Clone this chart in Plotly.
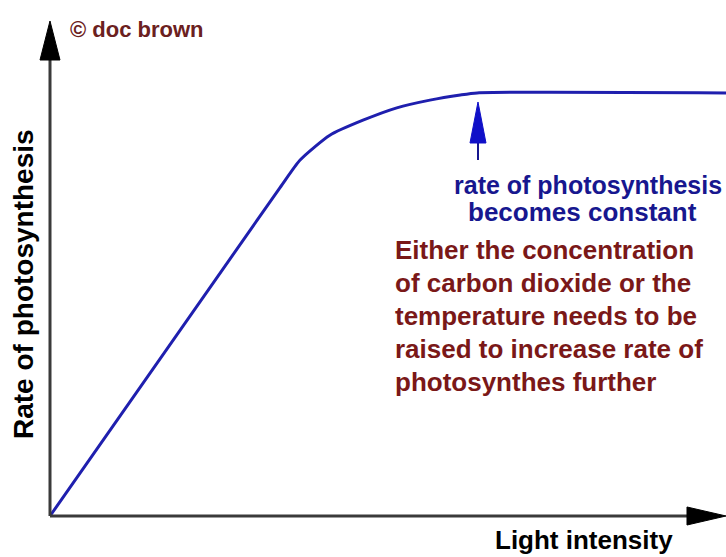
import plotly.graph_objects as go

# ---- data (arbitrary units) ----
light_intensity = [0, 34.0, 37.0, 41.4, 46.3, 51.3, 56.2, 60.7, 63.2, 100]
rate = [0, 63.6, 69.0, 73.8, 76.7, 79.1, 80.6, 81.6, 82.0, 82.0]

x_label = "Light intensity"
y_label = "Rate of photosynthesis"
credit = "© doc brown"
blue_lines = ["rate of photosynthesis", "becomes constant"]
red_lines = ["Either the concentration", "of carbon dioxide or the",
             "temperature needs to be", "raised to increase rate of",
             "photosynthes further"]

W, H = 726, 557
OX, OY = 50, 516  # origin in pixels
KX, KY = 6.76, 5.16


def P(px, py):
    return px / W, 1 - py / H


FONT = "Liberation Sans, Arial, sans-serif"
BLUE_LINE = "#1f1fae"
BLUE_TXT = "#17178f"
RED_TXT = "#7a1818"
AXIS = "#3a3a3a"

fig = go.Figure()
fig.add_trace(go.Scatter(x=light_intensity, y=rate, mode="lines",
                         line=dict(color=BLUE_LINE, width=3, shape="spline", smoothing=0.6),
                         hoverinfo="skip"))

shapes = []
# axes lines
x0, y0 = P(OX, OY)
x1, y1 = P(OX, 50)
shapes.append(dict(type="line", xref="paper", yref="paper", x0=x0, y0=y0, x1=x1, y1=y1,
                   line=dict(color=AXIS, width=3)))
x1, y1 = P(700, OY)
shapes.append(dict(type="line", xref="paper", yref="paper", x0=x0, y0=y0, x1=x1, y1=y1,
                   line=dict(color=AXIS, width=3)))


def tri(pts, color):
    d = "M " + " L ".join(f"{P(a, b)[0]:.5f},{P(a, b)[1]:.5f}" for a, b in pts) + " Z"
    return dict(type="path", xref="paper", yref="paper", path=d,
                fillcolor=color, line=dict(color=color, width=1))


# y-axis arrowhead
shapes.append(tri([(OX, 21), (OX - 10, 60), (OX + 10, 60)], "black"))
# x-axis arrowhead
shapes.append(tri([(726, OY), (687, OY - 9), (687, OY + 9)], "black"))
# blue up arrow
xa0, ya0 = P(478, 160)
xa1, ya1 = P(478, 140)
shapes.append(dict(type="line", xref="paper", yref="paper", x0=xa0, y0=ya0, x1=xa1, y1=ya1,
                   line=dict(color=BLUE_TXT, width=2)))
shapes.append(tri([(478, 102), (470, 143), (486, 143)], "#1010c8"))

ann = []


def text(t, px, py, size, color, xanchor="center", angle=0):
    ax_, ay_ = P(px, py)
    ann.append(dict(text=f"<b>{t}</b>", x=ax_, y=ay_, xref="paper", yref="paper",
                    showarrow=False, xanchor=xanchor, yanchor="middle", textangle=angle,
                    font=dict(family=FONT, size=size, color=color)))


text(credit, 68, 30, 22, "#6b2020", xanchor="left")
text(y_label, 23, 284, 28, "black", angle=-90)
text(x_label, 584, 540, 26, "black")
text(blue_lines[0], 452, 185, 25, BLUE_TXT, xanchor="left")
text(blue_lines[1], 466, 212, 26, BLUE_TXT, xanchor="left")
for i, t in enumerate(red_lines):
    text(t, 393, 250 + 33 * i, 26, RED_TXT, xanchor="left")

fig.update_layout(
    width=W, height=H, margin=dict(l=0, r=0, t=0, b=0),
    paper_bgcolor="white", plot_bgcolor="white", showlegend=False,
    xaxis=dict(range=[-OX / KX, (W - OX) / KX], visible=False, fixedrange=True),
    yaxis=dict(range=[-(H - OY) / KY, OY / KY], visible=False, fixedrange=True),
    shapes=shapes, annotations=ann,
)

fig.write_html("out.html", config={"displayModeBar": False},
               post_script="document.body.style.margin='0';document.body.style.padding='0';")
